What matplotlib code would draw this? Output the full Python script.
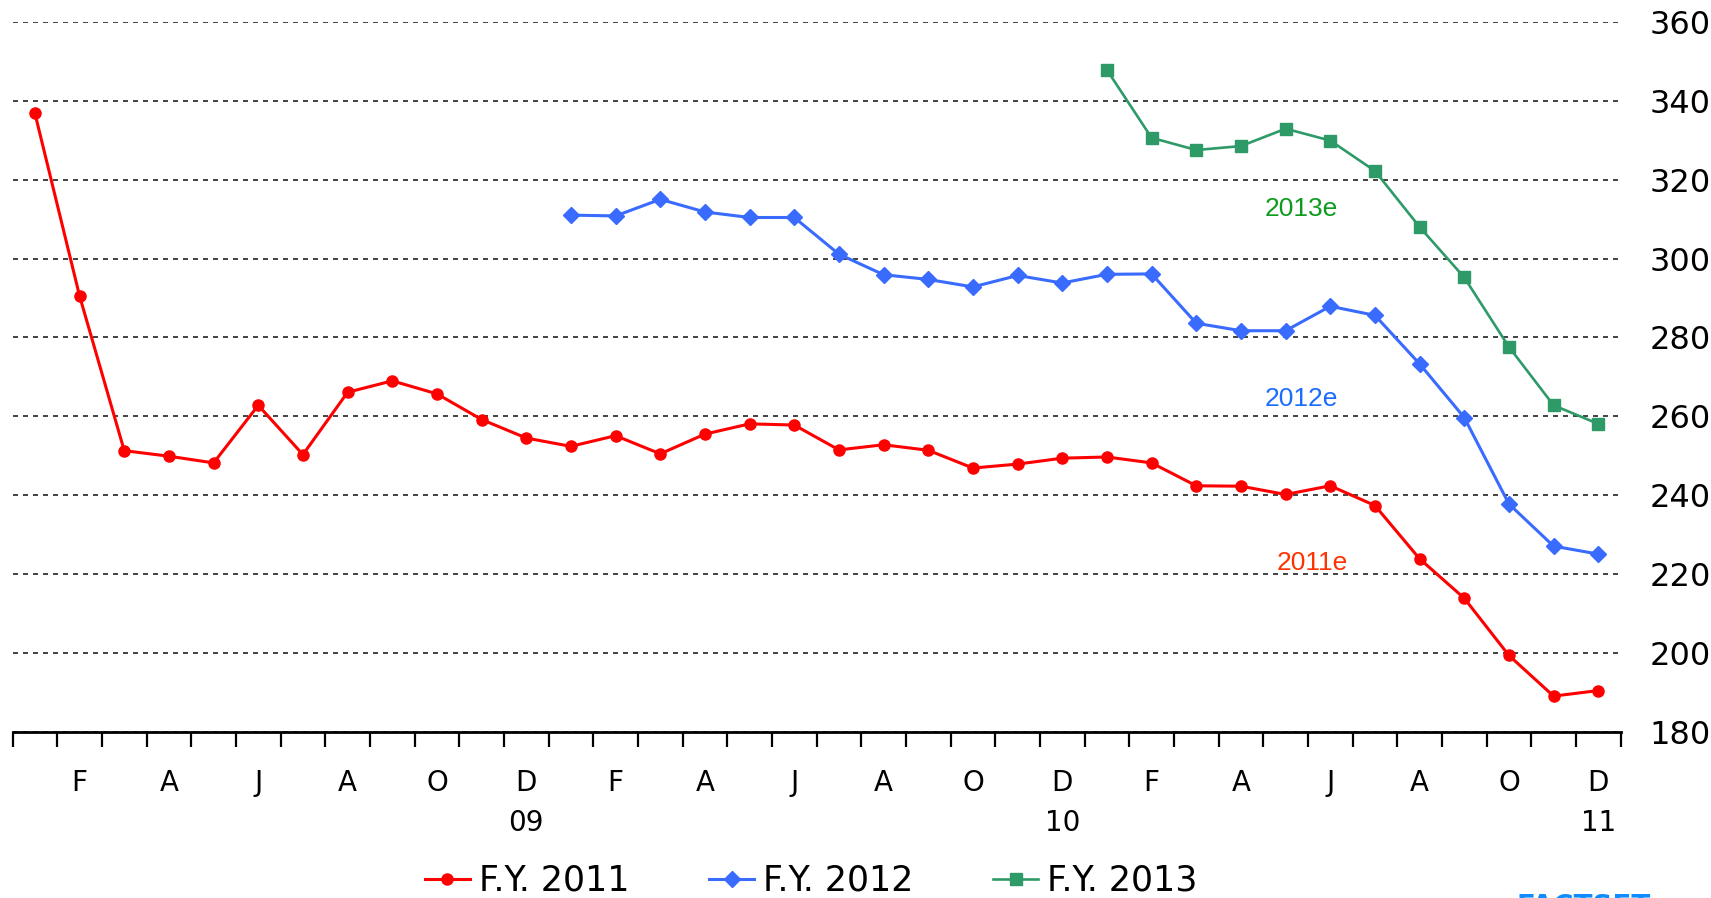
import numpy as np
import matplotlib
matplotlib.use('Agg')
import matplotlib.pyplot as plt
from matplotlib.lines import Line2D
import matplotlib.transforms as mtransforms

# ---------------- data ----------------
month_letters = ['J', 'F', 'M', 'A', 'M', 'J', 'J', 'A', 'S', 'O', 'N', 'D'] * 3
labeled_month_idx = [1, 3, 5, 7, 9, 11]          # F, A, J, A, O, D in each year
year_labels = ['09', '10', '11']
y_ticks = [180, 200, 220, 240, 260, 280, 300, 320, 340, 360]

# F.Y. 2011 estimates, Jan 2009 .. Dec 2011
fy2011 = [336.8, 290.5, 251.3, 249.9, 248.2, 262.8, 250.3, 266.1, 269.0, 265.7, 259.2, 254.5,
          252.4, 255.1, 250.5, 255.5, 258.1, 257.8, 251.5, 252.8, 251.4, 246.9, 247.9, 249.4,
          249.7, 248.2, 242.4, 242.3, 240.2, 242.4, 237.4, 223.9, 213.9, 199.4, 189.1, 190.5]
# F.Y. 2012 estimates, Jan 2010 .. Dec 2011
fy2012 = [311.0, 310.8, 315.0, 311.8, 310.4, 310.4, 301.1, 295.9, 294.7, 292.8, 295.7, 293.8,
          296.0, 296.1, 283.6, 281.7, 281.7, 287.9, 285.6, 273.3, 259.7, 237.8, 227.1, 225.1]
# F.Y. 2013 estimates, Jan 2011 .. Dec 2011
fy2013 = [347.8, 330.6, 327.5, 328.5, 332.9, 329.9, 322.2, 308.0, 295.2, 277.6, 262.8, 258.1]

start_2011, start_2012, start_2013 = 0, 12, 24
series_names = ['F.Y. 2011', 'F.Y. 2012', 'F.Y. 2013']
annot_texts = ['2011e', '2012e', '2013e']
annot_x = [29.09, 28.85, 28.85]
annot_y = [222.8, 264.3, 312.5]

# ---------------- style ----------------
c_red = '#FF0000'
c_blue = '#3A6BFF'
c_green = '#2E9A68'
annot_colors = ['#FF3300', '#1A6CFF', '#0E9A1E']

fig = plt.figure(figsize=(17.11, 8.98), dpi=100)
ax = fig.add_axes([0.00736, 0.18486, 0.9398, 0.79087])
ax.set_xlim(0, 36)
ax.set_ylim(180, 360)

ax.set_axisbelow(True)
ax.yaxis.grid(True, linestyle=(0, (3, 3)), color='#222222', linewidth=1.2)
ax.xaxis.grid(False)

for s in ['top', 'left', 'right']:
    ax.spines[s].set_visible(False)
ax.spines['bottom'].set_linewidth(2.0)
ax.spines['bottom'].set_color('black')

# series
x11 = np.arange(start_2011, start_2011 + len(fy2011)) + 0.5
x12 = np.arange(start_2012, start_2012 + len(fy2012)) + 0.5
x13 = np.arange(start_2013, start_2013 + len(fy2013)) + 0.5
ax.plot(x11, fy2011, color=c_red, lw=2.2, marker='o', ms=8, zorder=3)
ax.plot(x12, fy2012, color=c_blue, lw=2.2, marker='D', ms=8, zorder=3)
ax.plot(x13, fy2013, color=c_green, lw=1.9, marker='s', ms=9, zorder=3)

# annotations
for t, xx, yy, cc in zip(annot_texts, annot_x, annot_y, annot_colors):
    ax.text(xx, yy, t, color=cc, fontsize=19, family='Liberation Sans',
            ha='center', va='center')

# x ticks at month boundaries
ax.set_xticks(np.arange(0, 37))
ax.tick_params(axis='x', which='major', length=11, width=1.6, direction='out',
               labelbottom=False, color='black')

trans = mtransforms.blended_transform_factory(ax.transData, ax.transAxes)
axh = 710.0
for yr in range(3):
    for m in labeled_month_idx:
        i = yr * 12 + m
        ax.text(i + 0.5, -51 / axh, month_letters[i], transform=trans,
                ha='center', va='center', fontsize=20, color='black')
    ax.text(yr * 12 + 11 + 0.5, -91 / axh, year_labels[yr], transform=trans,
            ha='center', va='center', fontsize=20, color='black')

# y ticks on right
ax.yaxis.tick_right()
ax.set_yticks(y_ticks)
ax.set_yticklabels([str(v) for v in y_ticks])
ax.tick_params(axis='y', length=0, pad=21, labelsize=23)

# legend
handles = [Line2D([], [], color=c_red, lw=2.2, marker='o', ms=8),
           Line2D([], [], color=c_blue, lw=2.2, marker='D', ms=8),
           Line2D([], [], color=c_green, lw=1.9, marker='s', ms=9)]
fig.legend(handles, series_names, loc='center', bbox_to_anchor=(0.474, 0.019),
           ncol=3, frameon=False, fontsize=25, handlelength=1.3,
           handletextpad=0.25, columnspacing=2.3, borderaxespad=0, borderpad=0)

# clipped logo
fig.text(1584 / 1711, 1 - 893 / 898, 'FACTSET', color='#0F8CFF', fontsize=20,
         fontweight='bold', ha='center', va='top')

fig.savefig('out.png', dpi=100)
